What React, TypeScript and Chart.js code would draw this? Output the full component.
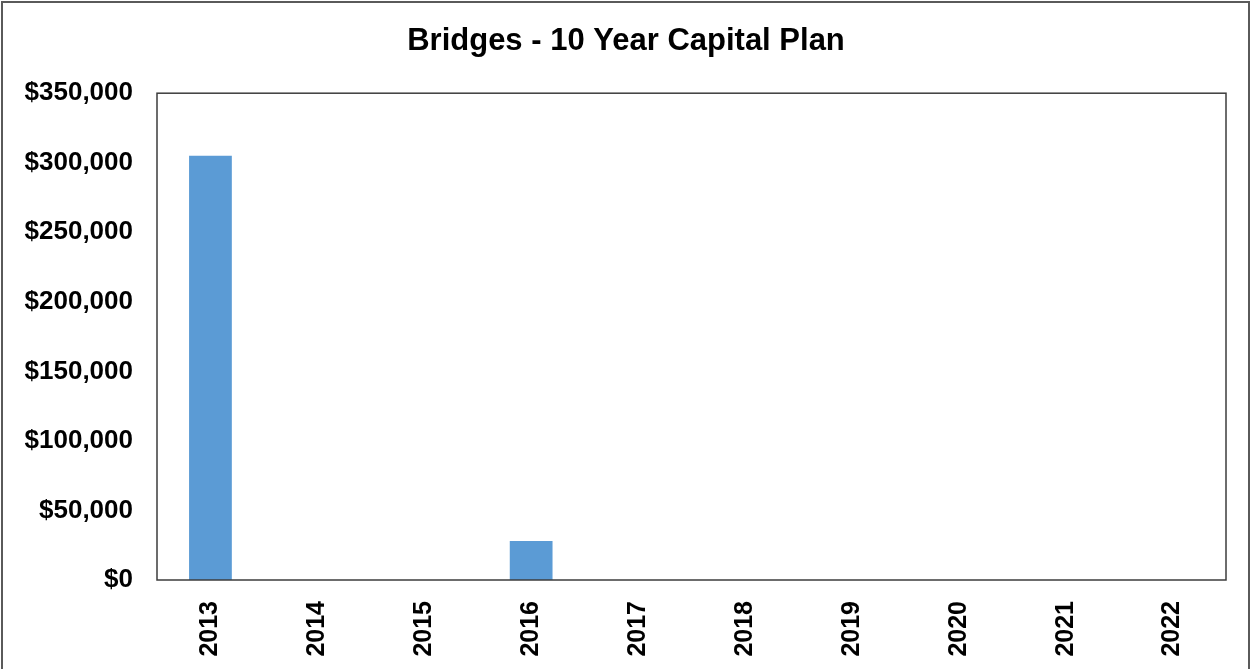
import React, { useEffect, useRef } from "react";
import { Chart, registerables } from "chart.js";

Chart.register(...registerables);

const years = ["2013", "2014", "2015", "2016", "2017", "2018", "2019", "2020", "2021", "2022"];
const capitalSpend = [305000, 0, 0, 28000, 0, 0, 0, 0, 0, 0];
const yMin = 0;
const yMax = 350000;
const yStep = 50000;
const titleText = "Bridges - 10 Year Capital Plan";

const FONT = "'Liberation Sans', Arial, Helvetica, sans-serif";

const framePlugin = {
  id: "framePlugin",
  afterDraw(chart: any) {
    const { ctx, chartArea } = chart;
    ctx.save();
    ctx.strokeStyle = "#3c3c3c";
    ctx.lineWidth = 1.5;
    ctx.strokeRect(chartArea.left, chartArea.top, chartArea.right - chartArea.left, chartArea.bottom - chartArea.top);
    ctx.strokeStyle = "#5a5a5a";
    ctx.lineWidth = 2;
    ctx.strokeRect(2, 2, chart.width - 5, chart.height + 20);
    ctx.restore();
  },
};

export default function App() {
  const ref = useRef<HTMLCanvasElement | null>(null);

  useEffect(() => {
    if (!ref.current) return;
    const chart = new Chart(ref.current, {
      type: "bar",
      data: {
        labels: years,
        datasets: [
          {
            data: capitalSpend,
            backgroundColor: "#5B9BD5",
            barPercentage: 0.4,
            categoryPercentage: 1,
          },
        ],
      },
      options: {
        responsive: false,
        animation: false,
        layout: { padding: { left: 0, right: 0, top: 0, bottom: 0 } },
        plugins: {
          legend: { display: false },
          tooltip: { enabled: false },
          title: {
            display: true,
            text: titleText,
            color: "#000",
            font: { family: FONT, size: 31, weight: "bold" },
            padding: { top: 23, bottom: 33 },
          },
        },
        scales: {
          x: {
            grid: { display: false, drawTicks: false },
            border: { display: false },
            ticks: {
              color: "#000",
              font: { family: FONT, size: 25, weight: "bold" },
              minRotation: 90,
              maxRotation: 90,
              padding: 21,
              autoSkip: false,
            },
            afterFit(scale: any) {
              scale.height = 89;
            },
          },
          y: {
            min: yMin,
            max: yMax,
            grid: { display: false, drawTicks: false },
            border: { display: false },
            ticks: {
              stepSize: yStep,
              color: "#000",
              font: { family: FONT, size: 26, weight: "bold" },
              padding: 24,
              callback: (v: any) => "$" + Number(v).toLocaleString("en-US"),
            },
            afterFit(scale: any) {
              scale.width = 157;
            },
          },
          yRight: {
            position: "right",
            min: yMin,
            max: yMax,
            grid: { display: false, drawTicks: false },
            border: { display: false },
            ticks: { display: false },
            afterFit(scale: any) {
              scale.width = 26;
            },
          },
        },
      },
      plugins: [framePlugin],
    });
    return () => chart.destroy();
  }, []);

  return (
    <div style={{ position: "absolute", left: 0, top: 0, width: 1252, height: 669, background: "#fff" }}>
      <canvas ref={ref} width={1252} height={669} />
    </div>
  );
}
